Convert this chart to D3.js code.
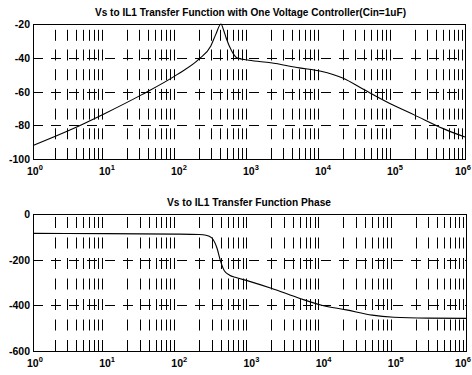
<!DOCTYPE html>
<html>
<head>
<meta charset="utf-8">
<script src="https://cdn.jsdelivr.net/npm/d3@7"></script>
<style>
  body { margin: 0; background: #fff; }
  svg { display: block; font-family: "Liberation Sans", Arial, sans-serif; }
</style>
</head>
<body>
<svg id="chart" width="472" height="375"></svg>
<script>
// magnitude curve (Hz, dB)
const magFreq = [1, 3.2, 10, 32, 100, 200, 295, 347, 407, 447, 479, 575, 676, 1000, 2000, 5000, 10000, 20000, 40000, 100000, 200000, 500000, 1000000];
const magDb = [-92, -83, -73, -62, -50, -41, -33, -26, -20, -24, -28, -36, -40, -41.5, -43, -46, -48, -52, -59, -68, -74, -82, -87];

// phase curve (Hz, deg)
const phaseFreq = [1, 10, 100, 200, 250, 300, 355, 400, 450, 530, 650, 1000, 2000, 5000, 10000, 22000, 50000, 100000, 300000, 1000000];
const phaseDeg = [-85, -86, -88, -90, -93, -105, -150, -210, -250, -268, -278, -295, -325, -370, -400, -420, -443, -452, -456, -457];

const xDecades = [1, 10, 100, 1000, 10000, 100000, 1000000];
const magTicks = [-20, -40, -60, -80, -100];
const phaseTicks = [0, -200, -400, -600];

const titleTop = 'Vs to IL1 Transfer Function with One Voltage Controller(Cin=1uF)';
const titleBottom = 'Vs to IL1 Transfer Function Phase';

const svg = d3.select('#chart');

function drawPanel(opts) {
  const { top, bottom, left, right, yDomain, yTicks, freq, vals, title, titleX, titleW, vDash } = opts;

  const x = d3.scaleLog().domain([1, 1e6]).range([left, right]);
  const y = d3.scaleLinear().domain(yDomain).range([bottom, top]);

  const g = svg.append('g');

  // minor-decade grid (2..9 in every decade)
  const minor = [];
  xDecades.slice(0, -1).forEach(d => { for (let k = 2; k <= 9; k++) minor.push(d * k); });

  g.append('g')
    .selectAll('line')
    .data(minor)
    .join('line')
      .attr('x1', d => Math.round(x(d)) + 0.5)
      .attr('x2', d => Math.round(x(d)) + 0.5)
      .attr('y1', bottom)
      .attr('y2', top)
      .attr('stroke', '#000')
      .attr('stroke-dasharray', vDash);

  g.append('g')
    .selectAll('line')
    .data(yTicks.slice(1, -1))
    .join('line')
      .attr('x1', left)
      .attr('x2', right)
      .attr('y1', d => Math.round(y(d)) + 0.5)
      .attr('y2', d => Math.round(y(d)) + 0.5)
      .attr('stroke', '#000')
      .attr('stroke-dasharray', '10,8');

  // box
  g.append('rect')
    .attr('x', left + 0.5)
    .attr('y', top + 0.5)
    .attr('width', right - left)
    .attr('height', bottom - top)
    .attr('fill', 'none')
    .attr('stroke', '#000');

  // y tick labels
  g.append('g')
    .selectAll('text')
    .data(yTicks)
    .join('text')
      .attr('x', left - 3)
      .attr('y', d => y(d) + 4)
      .attr('text-anchor', 'end')
      .attr('font-size', 10.5)
      .attr('font-weight', 'bold')
      .text(d => d);

  // x tick labels 10^n (last one pulled in so it stays inside the page)
  const xl = g.append('g')
    .selectAll('text')
    .data(xDecades)
    .join('text')
      .attr('x', (d, i) => i === xDecades.length - 1 ? 455 : x(d) - 6)
      .attr('y', bottom + 16)
      .attr('font-size', 10.5)
      .attr('font-weight', 'bold');
  xl.append('tspan').text('10');
  xl.append('tspan')
    .attr('dy', -5)
    .attr('font-size', 7.5)
    .text(d => Math.round(Math.log10(d)));

  // curve
  const line = d3.line()
    .x((d, i) => x(freq[i]))
    .y(d => y(d))
    .curve(d3.curveMonotoneX);

  g.append('path')
    .datum(vals)
    .attr('d', line)
    .attr('fill', 'none')
    .attr('stroke', '#000')
    .attr('stroke-width', 1.1);

  g.append('text')
    .attr('x', titleX)
    .attr('y', top - 8)
    .attr('font-size', 10)
    .attr('font-weight', 'bold')
    .attr('textLength', titleW)
    .attr('lengthAdjust', 'spacingAndGlyphs')
    .text(title);
}

drawPanel({
  top: 24, bottom: 159, left: 33, right: 465,
  yDomain: [-100, -20], yTicks: magTicks,
  freq: magFreq, vals: magDb,
  title: titleTop, titleX: 95, titleW: 311,
  vDash: '11,8.7'
});

drawPanel({
  top: 214, bottom: 351, left: 33, right: 466,
  yDomain: [-600, 0], yTicks: phaseTicks,
  freq: phaseFreq, vals: phaseDeg,
  title: titleBottom, titleX: 167, titleW: 164,
  vDash: '11,9.5'
});
</script>
</body>
</html>
